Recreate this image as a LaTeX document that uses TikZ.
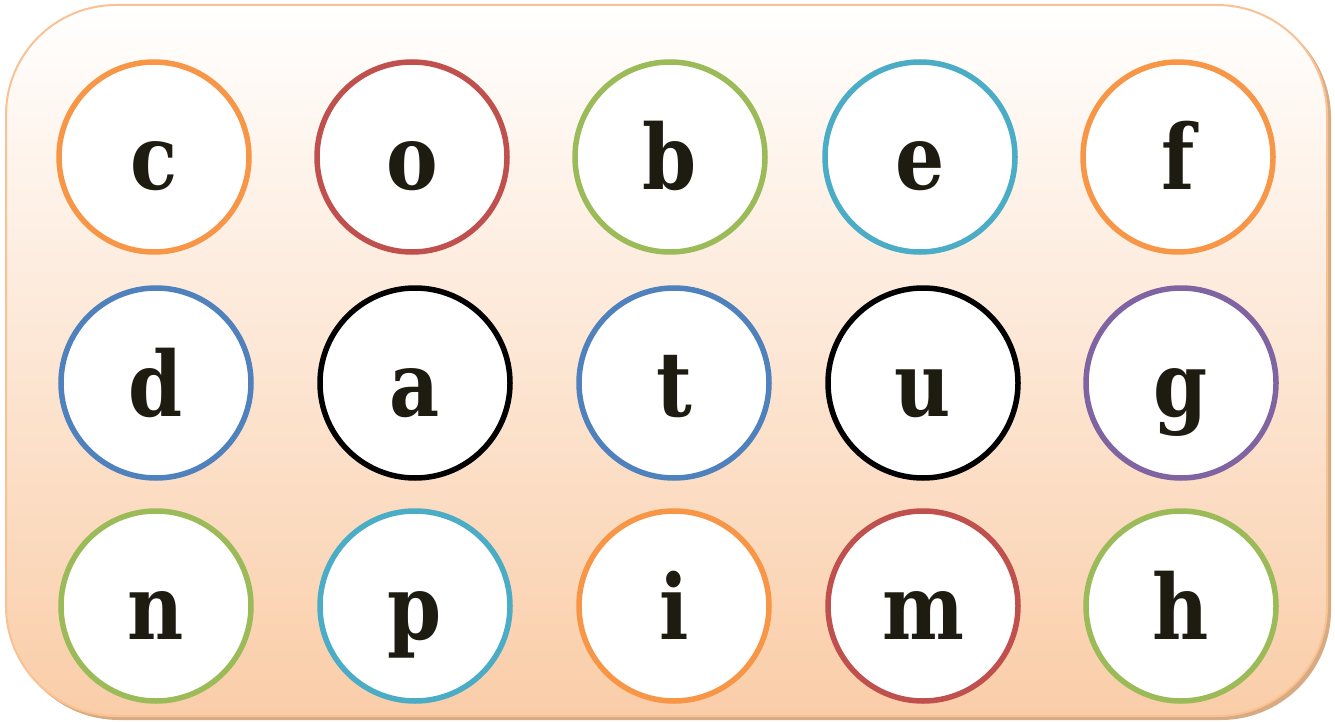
\documentclass[tikz,border=0pt]{standalone}
\usepackage{fontspec}
\newfontfamily\letterfont[FakeStretch=0.86]{DejaVu Serif}
\definecolor{cOrange}{RGB}{247,150,70}
\definecolor{cRed}{RGB}{192,80,77}
\definecolor{cGreen}{RGB}{155,187,89}
\definecolor{cCyan}{RGB}{75,172,198}
\definecolor{cBlue}{RGB}{79,129,189}
\definecolor{cPurple}{RGB}{128,100,162}
\definecolor{cBlack}{RGB}{0,0,0}
\definecolor{txt}{RGB}{30,28,17}
\definecolor{panelBorder}{RGB}{249,194,148}
\definecolor{panelShadow}{RGB}{215,170,130}
\definecolor{panelBottom}{RGB}{250,205,168}
\newcommand{\lettr}[1]{\raisebox{-33pt}[0pt][0pt]{#1}}
\tikzset{
  letter/.style={circle, draw=#1, line width=5.5pt, fill=white, minimum size=190pt, inner sep=0pt,
    text=txt, font=\letterfont\bfseries\fontsize{90}{100}\selectfont},
}
\begin{document}
\begin{tikzpicture}[x=1pt,y=-1pt]
\useasboundingbox (0,0) rectangle (1335,722);
% shadow
\fill[panelShadow, rounded corners=110pt] (9,8) rectangle (1331,720);
\shade[top color=white, bottom color=panelBottom, rounded corners=110pt, draw=panelBorder, line width=2pt] (6,5) rectangle (1327,716);
% row 1
\node[letter=cOrange] (c) at (154,157) {\lettr{c}};
\node[letter=cRed] (o) at (412,157) {\lettr{o}};
\node[letter=cGreen] (b) at (670,157) {\lettr{b}};
\node[letter=cCyan] (e) at (920,157) {\lettr{e}};
\node[letter=cOrange] (f) at (1178,157) {\lettr{f}};
% row 2
\node[letter=cBlue] (d) at (156,383) {\lettr{d}};
\node[letter=cBlack] (a) at (415,383) {\lettr{a}};
\node[letter=cBlue] (t) at (674,383) {\lettr{t}};
\node[letter=cBlack] (u) at (923,383) {\lettr{u}};
\node[letter=cPurple] (g) at (1181,383) {\lettr{g}};
% row 3
\node[letter=cGreen] (n) at (156,606) {\lettr{n}};
\node[letter=cCyan] (p) at (415,606) {\lettr{p}};
\node[letter=cOrange] (i) at (674,606) {\lettr{i}};
\node[letter=cRed] (m) at (923,606) {\lettr{m}};
\node[letter=cGreen] (h) at (1181,606) {\lettr{h}};
\end{tikzpicture}
\end{document}
